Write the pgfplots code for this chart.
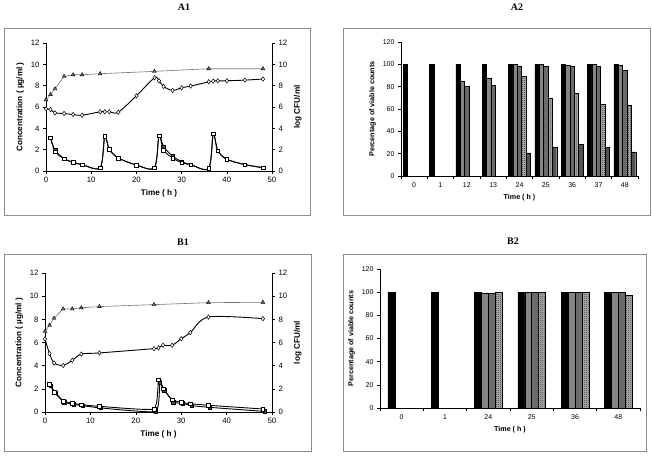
\documentclass[border=0pt]{standalone}
\usepackage{pgfplots}
\pgfplotsset{compat=1.18}
\usepackage{fontspec}
\setmainfont{Liberation Sans}
\newfontfamily\titlefont{Liberation Serif}
\usetikzlibrary{patterns}
\pgfdeclarepatternformonly{smallcheck}{\pgfpointorigin}{\pgfqpoint{2bp}{2bp}}{\pgfqpoint{2bp}{2bp}}{%
 \pgfpathrectangle{\pgfpointorigin}{\pgfqpoint{1bp}{1bp}}%
 \pgfpathrectangle{\pgfqpoint{1bp}{1bp}}{\pgfqpoint{1bp}{1bp}}%
 \pgfusepath{fill}}
\pgfplotsset{
 common/.style={scale only axis, anchor=south west, tick align=outside,
   major tick length=3bp, minor tick length=3bp,
   axis line style={line width=0.5bp},
   every tick/.style={line width=0.5bp, black},
   /pgf/number format/assume math mode=true, clip=false},
 linefig/.style={common, xmin=0, xmax=50, ymin=0, ymax=12,
   xtick={0,10,...,50}, ytick={0,2,...,12},
   tick label style={font=\fontsize{7.8}{8}\selectfont},
   label style={font=\bfseries\fontsize{8.2}{9}\selectfont}},
 barfig/.style={common, ybar=0pt, ymin=0, ymax=120, ytick={0,20,...,120},
   axis x line*=bottom, axis y line*=left,
   major x tick style={draw=none},
   tick label style={font=\fontsize{7}{8}\selectfont},
   label style={font=\bfseries\fontsize{7.2}{8}\selectfont},
   ylabel={Percentage of viable counts}, xlabel={Time ( h )}},
 tri/.style={draw=black!55, line width=0.6bp, mark=triangle*, mark size=2.2bp,
   mark options={fill=black!55, draw=black, line width=0.4bp}},
 dia/.style={draw=black, line width=0.9bp, smooth, tension=0.5, mark=diamond*, mark size=2.2bp,
   mark options={fill=white, draw=black, line width=0.5bp}},
 sqo/.style={draw=black, line width=0.9bp, smooth, tension=0.5, mark=square*, mark size=1.8bp,
   mark options={fill=white, draw=black, line width=0.5bp}},
 sqf/.style={draw=black, line width=0.9bp, smooth, tension=0.5, mark=square*, mark size=1.8bp,
   mark options={fill=black!70, draw=black, line width=0.5bp}},
 b1/.style={fill=black, draw=black, line width=0.4bp},
 b2/.style={fill=black!48, draw=black, line width=0.4bp},
 b3/.style={fill=black!58, draw=black, line width=0.4bp},
 b4/.style={fill=black!30, postaction={pattern=smallcheck, pattern color=black!80}, draw=black, line width=0.4bp},
 b5/.style={fill=black!68, draw=black, line width=0.4bp},
}
\begin{document}
\begin{tikzpicture}
\path[use as bounding box] (0,0) rectangle (652bp,457bp);
\draw[black!45, line width=0.6bp] (4bp,242bp) rectangle (310bp,429bp);
\draw[black!45, line width=0.6bp] (343bp,242bp) rectangle (650.5bp,429bp);
\draw[black!45, line width=0.6bp] (4bp,6bp) rectangle (311bp,203bp);
\draw[black!45, line width=0.6bp] (343bp,6bp) rectangle (646bp,203bp);
\node[font=\titlefont\bfseries\fontsize{10}{12}\selectfont] at (184bp,450bp) {A1};
\node[font=\titlefont\bfseries\fontsize{10}{12}\selectfont] at (517bp,450bp) {A2};
\node[font=\titlefont\bfseries\fontsize{10}{12}\selectfont] at (183bp,215bp) {B1};
\node[font=\titlefont\bfseries\fontsize{10}{12}\selectfont] at (513bp,216bp) {B2};

% ---------------- A1 ----------------
\begin{axis}[linefig, at={(46bp,286bp)}, width=226bp, height=128bp,
  axis x line*=bottom, axis y line*=left,
  ylabel={Concentration ( µg/ml )}, xlabel={Time ( h )}]
\addplot[sqf] coordinates {(1,3.1) (2,1.97) (4,1.16) (6,0.81) (8,0.6) (12,0.31) (13,3.26) (14,2.04) (16,1.22) (20,0.56) (24,0.31) (25,3.32) (26,2.29) (28,1.41) (30,0.88) (32,0.6) (36,0.25) (37,3.48) (38,1.91) (40,1.1) (44,0.6) (48,0.31)};
\addplot[sqo] coordinates {(1,3.1) (2,1.82) (4,1.16) (6,0.81) (8,0.6) (12,0.31) (13,3.26) (14,2.04) (16,1.22) (20,0.56) (24,0.31) (25,3.32) (26,1.97) (28,1.22) (30,0.78) (32,0.6) (36,0.25) (37,3.48) (38,1.91) (40,1.1) (44,0.6) (48,0.31)};
\end{axis}
\begin{axis}[linefig, at={(46bp,286bp)}, width=226bp, height=128bp,
  axis x line=none, axis y line*=right, ylabel={log CFU/ml}]
\addplot[tri] coordinates {(0,6.67) (1,7.17) (2,7.7) (4,8.87) (6,9.02) (8,9.02) (12,9.12) (24,9.34) (36,9.59) (48,9.59)};
\addplot[dia] coordinates {(0,5.83) (1,5.76) (2,5.45) (4,5.39) (6,5.29) (8,5.23) (12,5.55) (13,5.55) (14,5.55) (16,5.51) (20,7.05) (24,8.74) (25,8.46) (26,7.93) (28,7.55) (30,7.8) (32,7.96) (36,8.36) (37,8.43) (38,8.45) (40,8.46) (44,8.52) (48,8.62)};
\end{axis}

% ---------------- B1 ----------------
\begin{axis}[linefig, at={(45bp,45bp)}, width=227bp, height=139bp,
  axis x line*=bottom, axis y line*=left,
  ylabel={Concentration ( µg/ml )}, xlabel={Time ( h )}]
\addplot[sqf, tension=0.25] coordinates {(1.3,2.25) (2.3,1.65) (4.3,0.85) (6.3,0.65) (8.3,0.55) (12.3,0.35) (24.4,0.05) (25.3,2.55) (26.3,1.9) (28.3,0.85) (30.3,0.75) (32.3,0.55) (36.3,0.4) (48.4,0.05)};
\addplot[sqo, tension=0.25] coordinates {(1,2.42) (2,1.73) (4,0.92) (6,0.78) (8,0.63) (12,0.49) (24,0.26) (25,2.8) (26,2.0) (28,1.06) (30,0.83) (32,0.72) (36,0.58) (48,0.26)};
\end{axis}
\begin{axis}[linefig, at={(45bp,45bp)}, width=227bp, height=139bp,
  axis x line=none, axis y line*=right, ylabel={log CFU/ml}]
\addplot[tri] coordinates {(0,6.96) (1,7.48) (2,8.1) (4,8.9) (6,8.9) (8,9.0) (12,9.1) (24,9.27) (36,9.44) (48,9.47)};
\addplot[dia] coordinates {(0,6.3) (1,5.04) (2,4.23) (4,4.02) (6,4.46) (8,5.0) (12,5.1) (24,5.47) (25,5.53) (26,5.76) (28,5.76) (30,6.33) (32,6.85) (36,8.2) (48,8.06)};
\end{axis}

% ---------------- A2 ----------------
\begin{axis}[barfig, at={(401bp,281bp)}, width=237bp, height=134bp,
  bar width=4.35bp, xmin=-0.5, xmax=8.5,
  xtick={0,...,8}, xticklabels={0,1,12,13,24,25,36,37,48},
  minor xtick={-0.5,0.5,...,8.5}]
\addplot[b1] coordinates {(0,100) (1,100) (2,100) (3,100) (4,100) (5,100) (6,100) (7,100) (8,100)};
\addplot[b2] coordinates {(2,84.9) (3,87.8) (4,100) (5,100) (6,98.9) (7,100) (8,98.9)};
\addplot[b3] coordinates {(2,80.4) (3,81.3) (4,98.6) (5,98) (6,98.6) (7,98) (8,94.4)};
\addplot[b4] coordinates {(4,89.3) (5,69.7) (6,74.2) (7,64) (8,63.1)};
\addplot[b5] coordinates {(4,20.8) (5,25.9) (6,28.6) (7,25.9) (8,21.7)};
\end{axis}

% ---------------- B2 ----------------
\begin{axis}[barfig, at={(380bp,49bp)}, width=260bp, height=139bp,
  bar width=6.9bp, xmin=-0.5, xmax=5.5,
  xtick={0,...,5}, xticklabels={0,1,24,25,36,48},
  minor xtick={-0.5,0.5,...,5.5}]
\addplot[b1] coordinates {(0,100) (1,100) (2,100) (3,100) (4,100) (5,100)};
\addplot[b2] coordinates {(2,99.3) (3,100) (4,100) (5,100)};
\addplot[b3] coordinates {(2,99) (3,100) (4,100) (5,99.6)};
\addplot[b4] coordinates {(2,100) (3,100) (4,100) (5,97)};
\end{axis}
\end{tikzpicture}
\end{document}
